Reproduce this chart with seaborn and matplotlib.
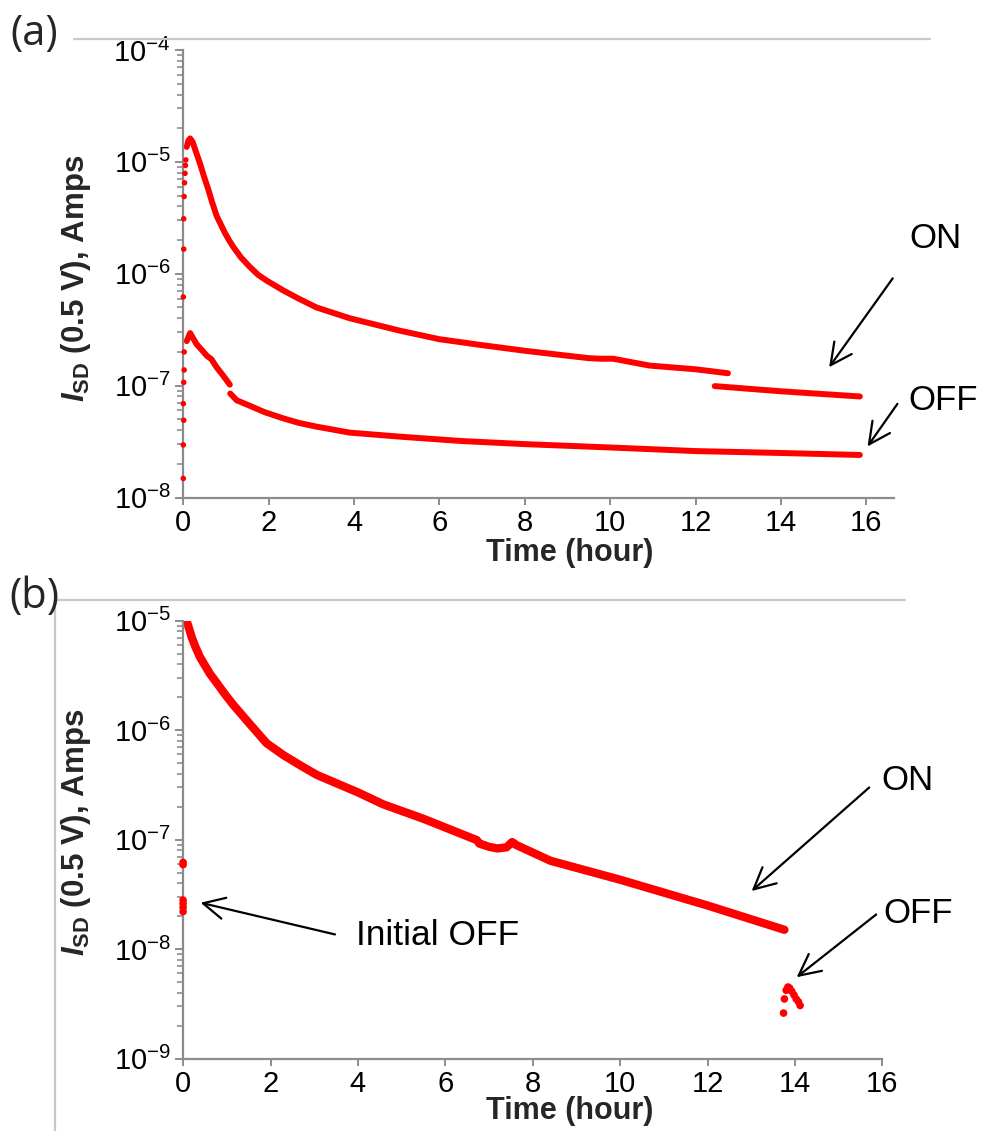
import numpy as np
import pandas as pd
import matplotlib
matplotlib.use("Agg")
import matplotlib.pyplot as plt
import seaborn as sns
from matplotlib.lines import Line2D
from matplotlib.ticker import LogLocator, FixedLocator, NullFormatter, LogFormatterSciNotation

# ---------------- data ----------------
# panel (a)
a_init_t = [0.0, 0.0, 0.01, 0.0, 0.01, 0.02, 0.02, 0.0, 0.01, 0.01, 0.02, 0.03, 0.04, 0.05, 0.06]
a_init_i = [1.48e-8, 2.95e-8, 4.9e-8, 6.9e-8, 1.07e-7, 1.38e-7, 2.0e-7, 6.2e-7,
            1.66e-6, 3.1e-6, 4.9e-6, 6.5e-6, 7.9e-6, 9.3e-6, 1.04e-5]

a_on1_t = [0.08, 0.12, 0.16, 0.22, 0.30, 0.39, 0.48, 0.59, 0.68, 0.78, 0.88, 0.98, 1.07,
           1.17, 1.35, 1.56, 1.75, 1.95, 2.34, 2.7, 3.12, 3.90, 5.07, 6.0, 7.0, 8.0,
           9.0, 9.5, 9.76, 10.07, 10.5, 10.93, 12.0, 12.76]
a_on1_i = [1.36e-5, 1.55e-5, 1.62e-5, 1.5e-5, 1.22e-5, 9.7e-6, 7.5e-6, 5.6e-6, 4.3e-6,
           3.3e-6, 2.75e-6, 2.3e-6, 2.0e-6, 1.74e-6, 1.4e-6, 1.15e-6, 9.8e-7, 8.7e-7,
           7.1e-7, 6.0e-7, 5.0e-7, 4.0e-7, 3.1e-7, 2.6e-7, 2.3e-7, 2.05e-7, 1.85e-7,
           1.76e-7, 1.74e-7, 1.74e-7, 1.62e-7, 1.51e-7, 1.40e-7, 1.29e-7]
a_on2_t = [12.45, 14.0, 15.85]
a_on2_i = [9.9e-8, 8.9e-8, 8.0e-8]

a_off1_t = [0.08, 0.16, 0.31, 0.45, 0.55, 0.66, 0.78, 0.92, 1.09]
a_off1_i = [2.5e-7, 2.95e-7, 2.35e-7, 2.05e-7, 1.85e-7, 1.72e-7, 1.46e-7, 1.25e-7, 1.02e-7]
a_off2_t = [1.10, 1.25, 1.56, 1.9, 2.34, 2.7, 3.12, 3.90, 5.07, 6.5, 8.0, 10.0, 12.0,
            14.0, 15.85]
a_off2_i = [8.5e-8, 7.4e-8, 6.6e-8, 5.8e-8, 5.1e-8, 4.65e-8, 4.3e-8, 3.8e-8, 3.5e-8,
            3.2e-8, 3.0e-8, 2.8e-8, 2.6e-8, 2.5e-8, 2.4e-8]

# panel (b)
b_init_t = [0.0, 0.0, 0.0, 0.0, 0.0, 0.0]
b_init_i = [6.2e-8, 5.9e-8, 2.8e-8, 2.6e-8, 2.4e-8, 2.2e-8]

b_on_t = [0.08, 0.12, 0.2, 0.28, 0.38, 0.5, 0.62, 0.77, 0.95, 1.15, 1.5, 1.91, 2.3,
          2.67, 3.06, 4.0, 4.58, 5.5, 6.72, 6.78, 7.0, 7.19, 7.4, 7.53, 7.63, 8.41,
          10.0, 12.0, 13.76]
b_on_i = [1.0e-5, 8.9e-6, 7.0e-6, 5.8e-6, 4.7e-6, 3.9e-6, 3.25e-6, 2.7e-6, 2.15e-6,
          1.7e-6, 1.17e-6, 7.6e-7, 5.9e-7, 4.8e-7, 3.9e-7, 2.7e-7, 2.1e-7, 1.55e-7,
          9.9e-8, 9.2e-8, 8.6e-8, 8.3e-8, 8.5e-8, 9.5e-8, 8.9e-8, 6.4e-8, 4.3e-8,
          2.5e-8, 1.5e-8]

b_off_t = [13.74, 13.76, 13.80, 13.84, 13.88, 13.93, 13.98, 14.03, 14.08, 14.12]
b_off_i = [2.6e-9, 3.5e-9, 4.2e-9, 4.5e-9, 4.4e-9, 4.1e-9, 3.8e-9, 3.5e-9, 3.3e-9, 3.05e-9]

# axis ticks
x_ticks = [0, 2, 4, 6, 8, 10, 12, 14, 16]
a_y_ticks = [1e-8, 1e-7, 1e-6, 1e-5, 1e-4]
b_y_ticks = [1e-9, 1e-8, 1e-7, 1e-6, 1e-5]

# ---------------- style ----------------
sns.set_theme(style="white")
plt.rcParams["font.family"] = ["Liberation Sans", "DejaVu Sans"]
plt.rcParams["axes.unicode_minus"] = False
plt.rcParams["mathtext.fontset"] = "custom"
plt.rcParams["mathtext.it"] = "Liberation Sans:italic:bold"
plt.rcParams["mathtext.rm"] = "Liberation Sans:bold"
plt.rcParams["mathtext.bf"] = "Liberation Sans:bold"

RED = "#ff0000"
SPINE = "#8c8c8c"
FRAME = "#c8c8c8"

fig = plt.figure(figsize=(9.86, 11.31), dpi=100)
W, H = 986.0, 1131.0

ax_a = fig.add_axes([183.3 / W, 1 - 497.5 / H, (894 - 183.3) / W, (497.5 - 50) / H])
ax_b = fig.add_axes([183.1 / W, 1 - 1058.5 / H, (882.3 - 183.1) / W, (1058.5 - 620.7) / H])


def style_axis(ax, xmax, yticks):
    ax.set_yscale("log")
    ax.set_xlim(0, xmax)
    ax.set_ylim(yticks[0], yticks[-1])
    for s in ["top", "right"]:
        ax.spines[s].set_visible(False)
    for s in ["left", "bottom"]:
        ax.spines[s].set_color(SPINE)
        ax.spines[s].set_linewidth(1.6)
    ax.xaxis.set_major_locator(FixedLocator(x_ticks))
    ax.yaxis.set_major_locator(FixedLocator(yticks))
    ax.yaxis.set_major_formatter(LogFormatterSciNotation())
    ax.yaxis.set_minor_locator(LogLocator(base=10, subs=np.arange(2, 10), numticks=20))
    ax.yaxis.set_minor_formatter(NullFormatter())
    ax.xaxis.set_minor_formatter(NullFormatter())
    ax.tick_params(axis="both", which="major", direction="out", color=SPINE,
                   width=1.4, labelsize=21, labelcolor="black", pad=3)
    ax.tick_params(axis="x", which="major", length=5, bottom=True)
    ax.tick_params(axis="y", which="major", length=6, left=True)
    ax.tick_params(axis="y", which="minor", length=4, width=1.2, color=SPINE, left=True)
    ax.tick_params(axis="x", which="minor", bottom=False)
    ax.set_xlabel("")
    ax.set_ylabel("")
    ax.set_facecolor("none")


def seg(ax, t, i, lw):
    df = pd.DataFrame({"t": t, "i": i})
    sns.lineplot(data=df, x="t", y="i", ax=ax, color=RED, lw=lw, sort=False,
                 estimator=None, solid_capstyle="round", solid_joinstyle="round")


def pts(ax, t, i, s):
    df = pd.DataFrame({"t": t, "i": i})
    sns.scatterplot(data=df, x="t", y="i", ax=ax, color=RED, s=s, edgecolor="none",
                    clip_on=False, zorder=5)


# panel (a)
ax_a.set_yscale("log")
seg(ax_a, a_on1_t, a_on1_i, 4.3)
seg(ax_a, a_on2_t, a_on2_i, 4.3)
seg(ax_a, a_off1_t, a_off1_i, 4.3)
seg(ax_a, a_off2_t, a_off2_i, 4.3)
pts(ax_a, a_init_t, a_init_i, 16)
style_axis(ax_a, 16.65, a_y_ticks)

# panel (b)
ax_b.set_yscale("log")
seg(ax_b, b_on_t, b_on_i, 6.0)
pts(ax_b, b_init_t, b_init_i, 30)
pts(ax_b, b_off_t, b_off_i, 30)
style_axis(ax_b, 16, b_y_ticks)

# annotations
arrow_kw = dict(arrowstyle="->,head_length=0.7,head_width=0.35", lw=1.6, color="black",
                shrinkA=0, shrinkB=0, mutation_scale=22)
txt_kw = dict(fontsize=25, color="black", ha="center", va="center", clip_on=False)

ax_a.annotate("", xy=(15.13, 1.46e-7), xytext=(16.62, 9.1e-7), arrowprops=arrow_kw,
              annotation_clip=False)
ax_a.text(17.63, 2.07e-6, "ON", **txt_kw)
ax_a.annotate("", xy=(16.03, 2.86e-8), xytext=(16.73, 6.87e-8), arrowprops=arrow_kw,
              annotation_clip=False)
ax_a.text(17.81, 7.36e-8, "OFF", **txt_kw)

ax_b.annotate("", xy=(13.01, 3.39e-8), xytext=(15.70, 2.99e-7), arrowprops=arrow_kw,
              annotation_clip=False)
ax_b.text(16.57, 3.49e-7, "ON", **txt_kw)
ax_b.annotate("", xy=(14.04, 5.53e-9), xytext=(15.86, 2.07e-8), arrowprops=arrow_kw,
              annotation_clip=False)
ax_b.text(16.82, 2.11e-8, "OFF", **txt_kw)
ax_b.annotate("", xy=(0.40, 2.65e-8), xytext=(3.476, 1.36e-8), arrowprops=arrow_kw,
              annotation_clip=False)
ax_b.text(3.95, 1.33e-8, "Initial OFF", fontsize=25.5, color="black", ha="left",
          va="center", clip_on=False)

# axis labels
ylab = r"$\mathit{I}_{\mathrm{SD}}$ (0.5 V), Amps"
fig.text(76 / W, 1 - 278 / H, ylab, rotation=90, fontsize=22.5, fontweight="bold",
         ha="center", va="center")
fig.text(76 / W, 1 - 832 / H, ylab, rotation=90, fontsize=22.5, fontweight="bold",
         ha="center", va="center")
fig.text(570 / W, 1 - 553 / H, "Time (hour)", fontsize=22, fontweight="bold",
         ha="center", va="center")
fig.text(570 / W, 1 - 1111 / H, "Time (hour)", fontsize=22, fontweight="bold",
         ha="center", va="center")

# panel letters
fig.text(34 / W, 1 - 34 / H, "(a)", fontsize=30, family=["Open Sans", "DejaVu Sans"],
         ha="center", va="center")
fig.text(34 / W, 1 - 597 / H, "(b)", fontsize=30, family=["Open Sans", "DejaVu Sans"],
         ha="center", va="center")

# light frame lines of the original layout
fig.add_artist(Line2D([74 / W, 930 / W], [1 - 39 / H, 1 - 39 / H], color=FRAME, lw=1.6))
fig.add_artist(Line2D([55 / W, 905 / W], [1 - 599.5 / H, 1 - 599.5 / H], color=FRAME, lw=1.6))
fig.add_artist(Line2D([55 / W, 55 / W], [1 - 599.5 / H, 0], color=FRAME, lw=1.6))

fig.savefig("out.png", dpi=100, facecolor="white")
